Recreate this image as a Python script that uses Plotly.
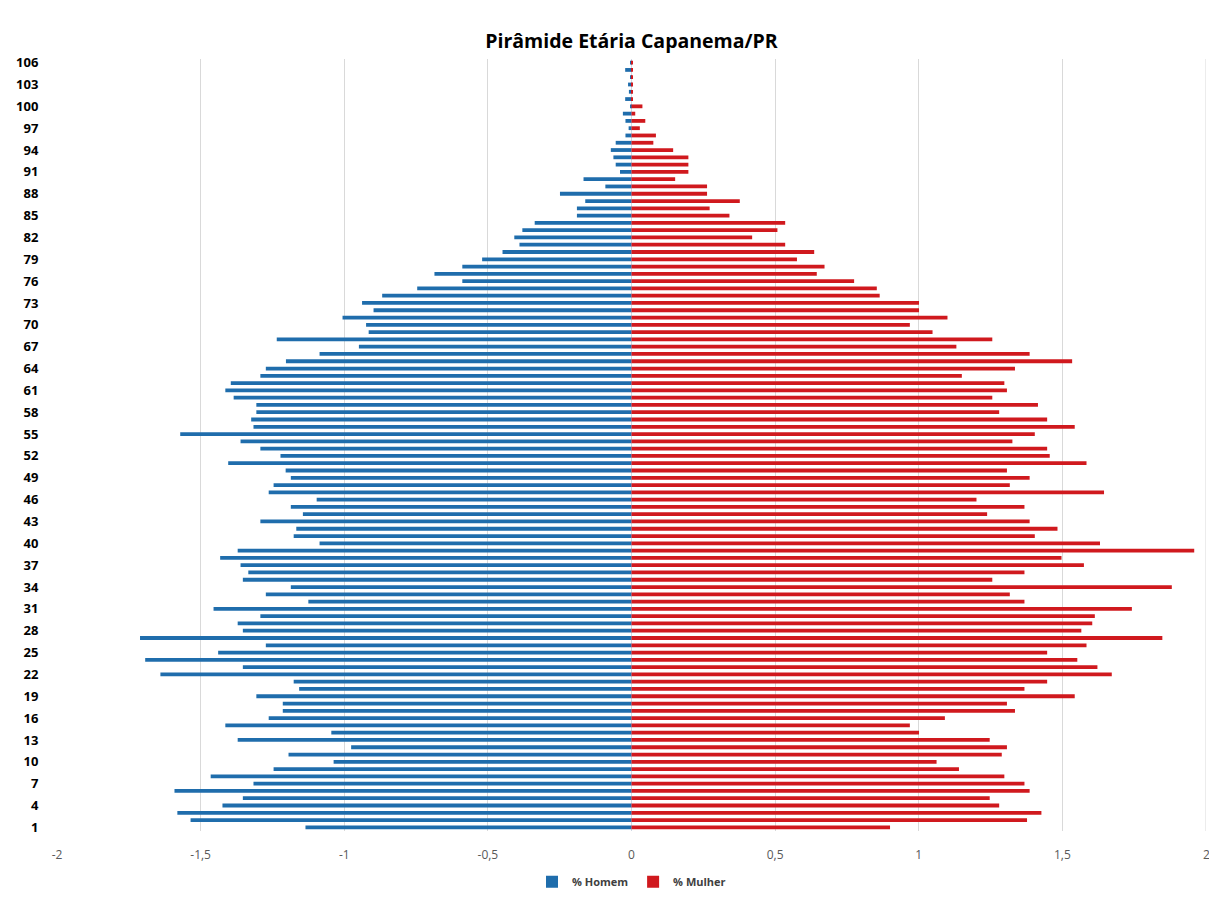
import plotly.graph_objects as go

# Idades (1 a 106) e percentual da população por sexo
idades = list(range(1, 107))

homem = [
    -1.135, -1.535, -1.581, -1.424, -1.353, -1.591, -1.316, -1.465, -1.246, -1.037,
    -1.194, -0.976, -1.371, -1.045, -1.414, -1.263, -1.214, -1.214, -1.306, -1.157,
    -1.176, -1.640, -1.353, -1.693, -1.439, -1.273, -1.711, -1.353, -1.371, -1.292,
    -1.455, -1.125, -1.273, -1.186, -1.353, -1.334, -1.361, -1.432, -1.371, -1.086,
    -1.176, -1.167, -1.292, -1.144, -1.186, -1.096, -1.263, -1.246, -1.186, -1.204,
    -1.404, -1.222, -1.292, -1.361, -1.571, -1.316, -1.324, -1.306, -1.306, -1.385,
    -1.414, -1.395, -1.292, -1.273, -1.203, -1.086, -0.949, -1.235, -0.915, -0.924,
    -1.006, -0.898, -0.938, -0.868, -0.746, -0.589, -0.686, -0.589, -0.520, -0.449,
    -0.390, -0.408, -0.380, -0.337, -0.190, -0.190, -0.161, -0.249, -0.091, -0.167,
    -0.040, -0.055, -0.063, -0.072, -0.055, -0.021, -0.010, -0.021, -0.030, -0.002,
    -0.022, -0.009, -0.012, -0.003, -0.022, -0.003,
]

mulher = [
    0.900, 1.377, 1.427, 1.280, 1.247, 1.386, 1.368, 1.298, 1.140, 1.062,
    1.289, 1.307, 1.247, 1.001, 0.969, 1.091, 1.335, 1.307, 1.543, 1.368,
    1.447, 1.672, 1.622, 1.552, 1.447, 1.584, 1.848, 1.566, 1.604, 1.613,
    1.742, 1.368, 1.317, 1.881, 1.256, 1.368, 1.575, 1.497, 1.959, 1.631,
    1.404, 1.483, 1.386, 1.238, 1.368, 1.201, 1.645, 1.317, 1.386, 1.307,
    1.584, 1.456, 1.447, 1.326, 1.404, 1.543, 1.447, 1.280, 1.415, 1.256,
    1.307, 1.298, 1.150, 1.335, 1.534, 1.386, 1.131, 1.256, 1.048, 0.969,
    1.100, 1.001, 1.001, 0.864, 0.854, 0.775, 0.645, 0.672, 0.576, 0.636,
    0.535, 0.420, 0.508, 0.535, 0.341, 0.272, 0.377, 0.263, 0.263, 0.152,
    0.198, 0.198, 0.198, 0.145, 0.076, 0.085, 0.029, 0.048, 0.013, 0.038,
    0.004, 0.004, 0.004, 0.003, 0.004, 0.002,
]

x_ticks = [-2, -1.5, -1, -0.5, 0, 0.5, 1, 1.5]
x_tick_labels = ["-2", "-1,5", "-1", "-0,5", "0", "0,5", "1", "1,5"]
y_ticks = list(range(1, 107, 3))

AZUL = "#1F6DAC"
VERMELHO = "#D0191E"
FONTE = "Open Sans"

fig = go.Figure()
fig.add_trace(go.Bar(
    y=idades, x=homem, orientation="h", name="% Homem",
    marker=dict(color=AZUL, line=dict(width=0)), width=0.52,
))
fig.add_trace(go.Bar(
    y=idades, x=mulher, orientation="h", name="% Mulher",
    marker=dict(color=VERMELHO, line=dict(width=0)), width=0.52,
))

# rótulo do limite direito do eixo x (fica na borda da figura)
fig.add_annotation(
    x=2, xref="x", y=0, yref="paper", yshift=-13,
    text="2", showarrow=False, xanchor="center", yanchor="top",
    font=dict(family=FONTE, size=12, color="#595959"),
)

fig.update_layout(
    width=1209, height=899,
    barmode="overlay",
    plot_bgcolor="white", paper_bgcolor="white",
    margin=dict(l=57, r=3, t=59, b=62),
    title=dict(
        text="<b>Pirâmide Etária Capanema/PR</b>",
        xref="paper", x=0.5, xanchor="center",
        y=1 - 41 / 899, yanchor="middle",
        font=dict(family=FONTE, size=19.5, color="#000000"),
    ),
    legend=dict(
        orientation="h", x=0.5, xanchor="center", y=-0.047, yanchor="top",
        font=dict(family=FONTE, size=11, color="#404040", weight="bold"),
        itemwidth=30, traceorder="normal",
    ),
    xaxis=dict(
        range=[-2, 2], tickvals=x_ticks, ticktext=x_tick_labels,
        showgrid=True, gridcolor="#D9D9D9", gridwidth=1,
        zeroline=True, zerolinecolor="#D0D8E4", zerolinewidth=1,
        tickfont=dict(family=FONTE, size=12, color="#595959"),
        ticks="outside", ticklen=13, tickcolor="rgba(0,0,0,0)",
        showline=False, fixedrange=True,
    ),
    yaxis=dict(
        range=[0.5, 106.5], tickvals=y_ticks,
        showgrid=False, zeroline=False, showline=False,
        tickfont=dict(family=FONTE, size=13, color="#000000", weight="bold"),
        ticks="outside", ticklen=15, tickcolor="rgba(0,0,0,0)",
        fixedrange=True,
    ),
    shapes=[dict(
        type="line", xref="x", yref="paper", x0=2, x1=2, y0=0, y1=1,
        line=dict(color="#D9D9D9", width=1), layer="below",
    )],
    font=dict(family=FONTE),
)

fig.write_html("out.html")
